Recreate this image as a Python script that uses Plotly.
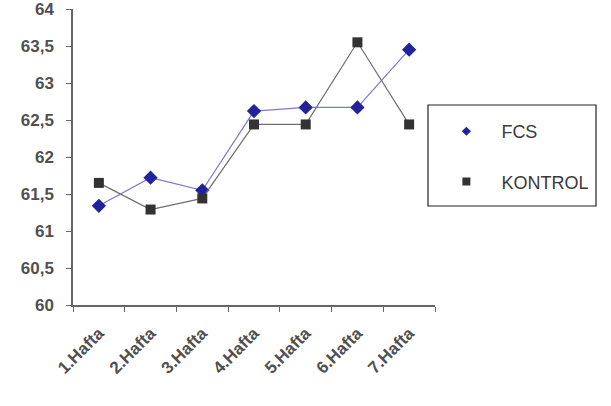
import plotly.graph_objects as go

weeks = ["1.Hafta", "2.Hafta", "3.Hafta", "4.Hafta", "5.Hafta", "6.Hafta", "7.Hafta"]
fcs = [61.34, 61.72, 61.55, 62.62, 62.67, 62.67, 63.45]
kontrol = [61.65, 61.29, 61.44, 62.44, 62.44, 63.55, 62.44]
y_ticks = [60, 60.5, 61, 61.5, 62, 62.5, 63, 63.5, 64]

fcs_dark = "#22229a"
kon_dark = "#333333"

fig = go.Figure()
fig.add_trace(go.Scatter(
    x=weeks, y=fcs, name="FCS", mode="lines+markers", showlegend=False,
    line=dict(color="#7b7bd0", width=1.2),
    marker=dict(symbol="diamond", size=11, color=fcs_dark),
))
fig.add_trace(go.Scatter(
    x=weeks, y=kontrol, name="KONTROL", mode="lines+markers", showlegend=False,
    line=dict(color="#6e6e6e", width=1.2),
    marker=dict(symbol="square", size=10, color=kon_dark),
))
# legend entries (marker only, like the original)
fig.add_trace(go.Scatter(
    x=[None], y=[None], name="FCS", mode="markers", legendgroup="a",
    marker=dict(symbol="diamond", size=7, color=fcs_dark),
))
fig.add_trace(go.Scatter(
    x=[None], y=[None], name="KONTROL", mode="markers", legendgroup="b",
    marker=dict(symbol="square", size=8, color=kon_dark),
))

T, B = 9, 101
plot_h = 406 - T - B
axis_font = dict(family="Liberation Sans, Arial, sans-serif", size=17, color="#505050", weight="bold")
fig.update_layout(
    width=611, height=406,
    margin=dict(l=73, r=176, t=T, b=B, autoexpand=False),
    paper_bgcolor="white", plot_bgcolor="white",
    separators=",.",
    showlegend=True,
    legend=dict(
        x=0.99, y=(305 - 113) / plot_h, xanchor="left", yanchor="top",
        borderwidth=0, bgcolor="rgba(0,0,0,0)",
        font=dict(family="Liberation Sans, Arial, sans-serif", size=18, color="#3a3a3a"),
        tracegroupgap=24, itemwidth=60,
    ),
    shapes=[dict(
        type="rect", xref="paper", yref="paper",
        x0=(428 - 73) / 362, x1=(596 - 73) / 362,
        y0=(305 - 206) / plot_h, y1=(305 - 105) / plot_h,
        line=dict(color="#222222", width=1.2), fillcolor="rgba(0,0,0,0)", layer="below",
    )],
    xaxis=dict(
        type="category", range=[-0.5, 6.5], tickson="boundaries", automargin=False,
        showline=True, linecolor="#666666", linewidth=1.5,
        ticks="outside", ticklen=5, tickcolor="#666666", ticklabelstandoff=10,
        showgrid=False, zeroline=False, tickangle=-45, tickfont=axis_font,
    ),
    yaxis=dict(
        range=[60, 64], tickmode="array", tickvals=y_ticks, automargin=False,
        showline=True, linecolor="#666666", linewidth=1.5,
        ticks="outside", ticklen=5, tickcolor="#666666", ticklabelstandoff=9,
        ticklabeloverflow="allow",
        showgrid=False, zeroline=False, tickfont=axis_font,
    ),
)

fig.write_html("out.html")
